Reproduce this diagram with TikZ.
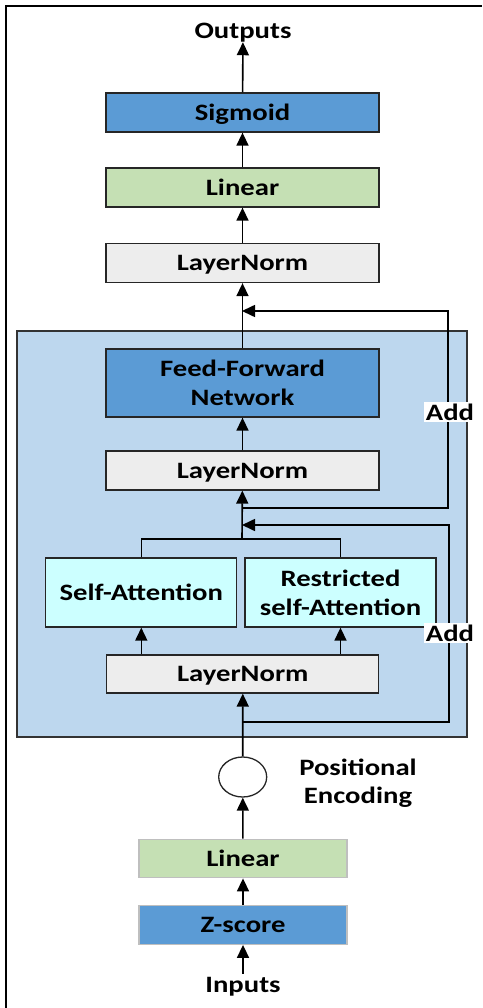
\documentclass[tikz,border=0pt]{standalone}
\usepackage{fontspec}
\setmainfont{Carlito}[FakeStretch=1.22]
\usetikzlibrary{positioning,shapes.geometric,arrows.meta,calc}

\definecolor{boxblue}{HTML}{5B9BD5}
\definecolor{boxgreen}{HTML}{C5E0B4}
\definecolor{boxgray}{HTML}{EDEDED}
\definecolor{boxcyan}{HTML}{CCFFFF}
\definecolor{encblue}{HTML}{BDD7EE}

\begin{document}
\begin{tikzpicture}[x=1pt, y=-1pt,
  every node/.style={font=\fontsize{23.5}{28.5}\selectfont\bfseries, text depth=0pt},
  block/.style={draw=black!85, line width=1.3pt, align=center,
                minimum width=273pt, minimum height=39pt, inner sep=2pt},
  soft/.style={draw=black!25, line width=1.3pt, align=center,
               minimum width=208pt, minimum height=38.5pt, inner sep=2pt},
  attn/.style={block, fill=boxcyan, minimum width=191pt, minimum height=69pt},
  addlbl/.style={fill=white, inner sep=2pt},
  arrow/.style={-{Triangle[length=13pt,width=12pt]}, line width=1.6pt},
  wire/.style={line width=1.6pt},
]
\useasboundingbox (0,0) rectangle (482,1008);

% ---- frame -----------------------------------------------------------
\draw[line width=2pt] (6,1008) -- (6,6) -- (482,6);

% ---- encoder block ---------------------------------------------------
\node[draw=black!80, line width=1.3pt, fill=encblue,
      minimum width=450pt, minimum height=406pt] (enc) at (242,534) {};

% ---- output head -----------------------------------------------------
\node (out) at (243,31) {Outputs};
\node[block, fill=boxblue]  (sig) at (242.5,112.5) {Sigmoid};
\node[block, fill=boxgreen] (linT) at (242.5,187.5) {Linear};
\node[block, fill=boxgray]  (lnT) at (242.5,263) {LayerNorm};

% ---- inside the encoder ----------------------------------------------
\node[block, fill=boxblue, minimum height=68pt] (ffn) at (242.5,383) {Feed-Forward\\Network};
\node[block, fill=boxgray] (lnM) at (242.5,470.5) {LayerNorm};
\node[attn] (sa)  at (141.3,592.5) {Self-Attention};
\node[attn] (rsa) at (340.5,592.5) {Restricted\\self-Attention};
\node[block, fill=boxgray, minimum width=272pt, minimum height=38pt] (lnB) at (242.8,674) {LayerNorm};

% ---- input side ------------------------------------------------------
\node[draw=black!85, line width=1.3pt, ellipse, minimum width=48pt,
      minimum height=40pt, inner sep=0pt, fill=white] (pe) at (242.7,777) {};
\node[align=center] (pelbl) at (358,781) {Positional\\Encoding};
\node[soft, fill=boxgreen] (linB) at (243,858.5) {Linear};
\node[soft, fill=boxblue]  (zs) at (243,925) {Z-score};
\node (in) at (243,985) {Inputs};

% ---- junctions on the main line --------------------------------------
\coordinate (t1) at (242,311);
\coordinate (s1) at (242,508);
\coordinate (t2) at (242,525);
\coordinate (jb) at (242,539);
\coordinate (s2) at (242,722);

% ---- forward flow ----------------------------------------------------
\draw[arrow] (in) -- (zs);
\draw[arrow] (zs) -- (linB);
\draw[arrow] (linB) -- (pe);
\draw[arrow] (pe) -- (lnB);
\draw[arrow] (lnB.north -| sa) -- (sa);
\draw[arrow] (lnB.north -| rsa) -- (rsa);
\draw[wire] (sa.north) |- (jb) -| (rsa.north);
\draw[arrow] (jb) -- (lnM);
\draw[arrow] (lnM) -- (ffn);
\draw[arrow] (ffn) -- (lnT);
\draw[arrow] (lnT) -- (linT);
\draw[arrow] (linT) -- (sig);
\draw[arrow] (sig) -- (out);

% ---- residual connections --------------------------------------------
\draw[arrow] (s2) -- ++(207,0) |- (t2);
\draw[arrow] (s1) -- ++(206,0) |- (t1);
\node[addlbl] (add1) at (450,412) {Add};
\node[addlbl] (add2) at (450,633) {Add};

\end{tikzpicture}
\end{document}
